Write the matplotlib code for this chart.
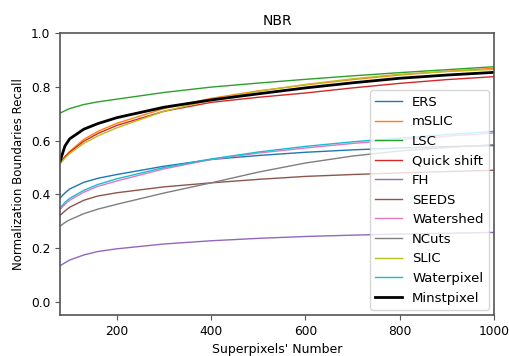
import numpy as np
import matplotlib.pyplot as plt

# superpixel counts (x axis)
n_sp = [80, 90, 100, 130, 160, 200, 300, 400, 500, 600, 700, 800, 900, 1000]

ers = [0.387, 0.405, 0.42, 0.445, 0.46, 0.474, 0.505, 0.53, 0.545, 0.557, 0.566, 0.573, 0.578, 0.582]
mslic = [0.515, 0.54, 0.56, 0.605, 0.635, 0.665, 0.72, 0.758, 0.786, 0.808, 0.828, 0.845, 0.859, 0.87]
lsc = [0.703, 0.712, 0.72, 0.735, 0.745, 0.755, 0.78, 0.80, 0.815, 0.829, 0.842, 0.854, 0.865, 0.876]
quickshift = [0.52, 0.54, 0.557, 0.598, 0.627, 0.657, 0.71, 0.743, 0.762, 0.778, 0.797, 0.814, 0.828, 0.839]
fh = [0.134, 0.145, 0.155, 0.174, 0.187, 0.197, 0.215, 0.227, 0.236, 0.243, 0.248, 0.252, 0.255, 0.258]
seeds = [0.322, 0.338, 0.352, 0.378, 0.394, 0.406, 0.428, 0.443, 0.456, 0.467, 0.474, 0.48, 0.485, 0.49]
watershed = [0.344, 0.363, 0.378, 0.408, 0.43, 0.45, 0.495, 0.53, 0.554, 0.573, 0.59, 0.604, 0.617, 0.629]
ncuts = [0.282, 0.295, 0.305, 0.328, 0.345, 0.363, 0.405, 0.443, 0.483, 0.517, 0.543, 0.562, 0.575, 0.585]
slic = [0.515, 0.535, 0.552, 0.59, 0.618, 0.648, 0.71, 0.752, 0.784, 0.81, 0.831, 0.848, 0.858, 0.866]
waterpixel = [0.35, 0.37, 0.385, 0.415, 0.437, 0.458, 0.50, 0.532, 0.558, 0.579, 0.596, 0.61, 0.623, 0.635]
minstpixel = [0.525, 0.58, 0.607, 0.643, 0.664, 0.686, 0.725, 0.752, 0.775, 0.797, 0.816, 0.833, 0.845, 0.855]

names = ['ERS', 'mSLIC', 'LSC', 'Quick shift', 'FH', 'SEEDS', 'Watershed',
         'NCuts', 'SLIC', 'Waterpixel']
series = [ers, mslic, lsc, quickshift, fh, seeds, watershed, ncuts, slic, waterpixel]

fig = plt.figure(figsize=(5.1, 3.56), dpi=100)
ax = fig.add_axes([0.118, 0.115, 0.851, 0.791])

# tab10 colours, same order as the default cycle
for name, vals in zip(names, series):
    ax.plot(n_sp, vals, lw=1.0, label=name)
ax.plot(n_sp, minstpixel, color='black', lw=2.0, label='Minstpixel')

ax.set_xlim(80, 1000)
ax.set_ylim(-0.05, 1.0)
ax.set_xticks([200, 400, 600, 800, 1000])
ax.set_yticks([0.0, 0.2, 0.4, 0.6, 0.8, 1.0])
ax.tick_params(labelsize=8.8, color='#555555')
for s in ax.spines.values():
    s.set_color('#555555')
    s.set_linewidth(1.2)

ax.set_title('NBR', fontsize=10)
ax.set_xlabel("Superpixels' Number", fontsize=9)
ax.set_ylabel('Normalization Boundaries Recall', fontsize=8.5)
ax.legend(loc='lower right', fontsize=9.5, handlelength=2.0, labelspacing=0.5,
          borderaxespad=0.4)

plt.savefig('out.png', dpi=100)
